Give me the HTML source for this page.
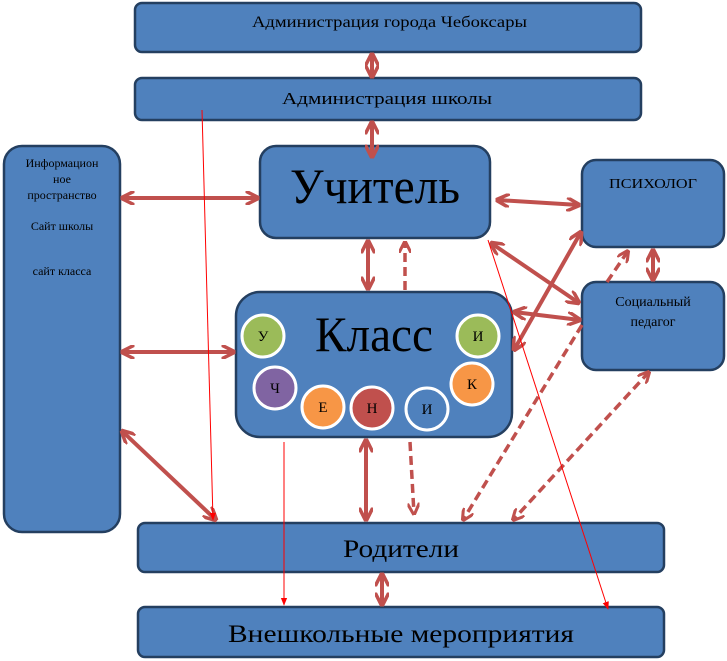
<!DOCTYPE html>
<html><head><meta charset="utf-8"><style>
html,body{margin:0;padding:0;background:#fff;}
svg{display:block;font-family:"Liberation Serif",serif;}
</style></head><body>
<svg width="727" height="661" viewBox="0 0 727 661" xmlns="http://www.w3.org/2000/svg">
<defs>
<marker id="a" viewBox="0 0 10 10" refX="9" refY="5" markerWidth="3.5" markerHeight="3.5" orient="auto-start-reverse"><path d="M0,0 L10,5 L0,10" fill="none" stroke="#c0504d" stroke-width="2.5"/></marker>
<marker id="r" viewBox="0 0 10 10" refX="9" refY="5" markerWidth="8" markerHeight="8" orient="auto"><path d="M0,1 L10,5 L0,9z" fill="#f00"/></marker>
</defs>
<g fill="#4f81bd" stroke="#243f60" stroke-width="2.5">
<rect x="135" y="3" width="506" height="49" rx="7"/>
<rect x="135" y="78" width="506" height="42" rx="7"/>
<rect x="4" y="146" width="116" height="386" rx="18"/>
<rect x="260" y="146" width="230" height="92" rx="16"/>
<rect x="582" y="160" width="142" height="87" rx="14"/>
<rect x="582" y="282" width="142" height="88" rx="14"/>
<rect x="236" y="292" width="276" height="145" rx="24"/>
<rect x="138" y="523" width="526" height="49" rx="7"/>
<rect x="138" y="607" width="526" height="50" rx="7"/>
</g>
<g stroke="#fff" stroke-width="3">
<circle cx="263" cy="336" r="21" fill="#9bbb59"/>
<circle cx="478" cy="336" r="21" fill="#9bbb59"/>
<circle cx="275" cy="388" r="21" fill="#8064a2"/>
<circle cx="323" cy="407" r="21" fill="#f79646"/>
<circle cx="372" cy="408" r="21" fill="#c0504d"/>
<circle cx="427" cy="409" r="21" fill="#4f81bd"/>
<circle cx="472" cy="384" r="21" fill="#f79646"/>
</g>
<g font-size="15" text-anchor="middle" fill="#000">
<text x="263" y="341">У</text><text x="478" y="341">И</text><text x="275" y="393">Ч</text>
<text x="323" y="412">Е</text><text x="372" y="413">Н</text><text x="427" y="414">И</text><text x="472" y="389">К</text>
</g>
<g fill="#000">
<text x="252" y="27" font-size="16" textLength="275" lengthAdjust="spacingAndGlyphs">Администрация города Чебоксары</text>
<text x="282" y="104" font-size="17" textLength="210" lengthAdjust="spacingAndGlyphs">Администрация школы</text>
<text x="290" y="203" font-size="50" textLength="170" lengthAdjust="spacingAndGlyphs">Учитель</text>
<text x="315" y="351" font-size="50" textLength="118" lengthAdjust="spacingAndGlyphs">Класс</text>
<text x="609" y="188" font-size="14" textLength="88" lengthAdjust="spacingAndGlyphs">ПСИХОЛОГ</text>
<text x="653" y="306" font-size="14" text-anchor="middle">Социальный</text>
<text x="653" y="326" font-size="14" text-anchor="middle">педагог</text>
<text x="343" y="557" font-size="25" textLength="116" lengthAdjust="spacingAndGlyphs">Родители</text>
<text x="228" y="642" font-size="25" textLength="346" lengthAdjust="spacingAndGlyphs">Внешкольные мероприятия</text>
<g font-size="12" text-anchor="middle"><text x="62" y="167">Информацион</text><text x="62" y="183">ное</text><text x="62" y="199">пространство</text><text x="62" y="230">Сайт школы</text><text x="62" y="275">сайт класса</text></g>
</g>
<g stroke="#c0504d" stroke-width="4" fill="none" marker-start="url(#a)" marker-end="url(#a)">
<line x1="372" y1="54" x2="372" y2="77"/>
<line x1="372" y1="122" x2="372" y2="157"/>
<line x1="122" y1="198" x2="258" y2="198"/>
<line x1="497" y1="200" x2="579" y2="205"/>
<line x1="368" y1="241" x2="368" y2="289"/>
<line x1="122" y1="352" x2="234" y2="352"/>
<line x1="122" y1="431" x2="216" y2="520"/>
<line x1="366" y1="440" x2="366" y2="520"/>
<line x1="382" y1="574" x2="382" y2="605"/>
<line x1="653" y1="250" x2="653" y2="280"/>
<line x1="491" y1="243" x2="579" y2="303"/>
<line x1="514" y1="312" x2="580" y2="320"/>
<line x1="514" y1="350" x2="581" y2="232"/>
</g>
<g stroke="#c0504d" stroke-width="3.5" fill="none" stroke-dasharray="9,5" marker-end="url(#a)">
<line x1="405" y1="290" x2="405" y2="242"/>
<line x1="410" y1="442" x2="414" y2="514"/>
<line x1="607" y1="282" x2="628" y2="251"/>
<line x1="582" y1="325" x2="463" y2="520"/>
<line x1="649" y1="372" x2="513" y2="520" marker-start="url(#a)"/>
</g>
<g stroke="#f00" stroke-width="1" fill="none" marker-end="url(#r)">
<line x1="202" y1="110" x2="213" y2="520"/>
<line x1="284" y1="442" x2="284" y2="605"/>
<line x1="488" y1="240" x2="608" y2="609"/>
</g>
</svg>
</body></html>
